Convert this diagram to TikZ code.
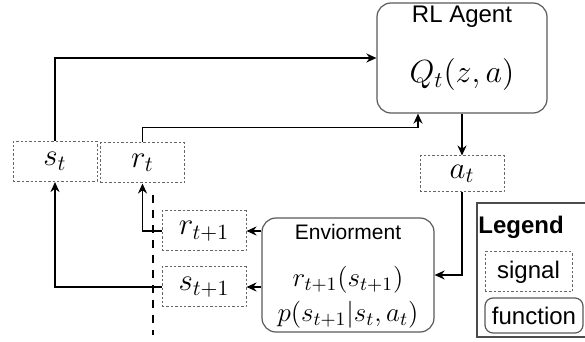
\RequirePackage{fix-cm}
\documentclass[tikz,border=0pt]{standalone}
\usepackage{fontspec}
\setsansfont{Liberation Sans}
\usetikzlibrary{arrows.meta}

\begin{document}
\begin{tikzpicture}[x=0.5pt, y=-0.5pt, >={Stealth[length=5pt,width=4.5pt]},
    signal/.style={draw=black!60, dash pattern=on 1.2pt off 1pt, line width=0.5pt, minimum width=42pt, minimum height=20pt, inner sep=0pt, font=\fontsize{15.5}{18}\selectfont},
    func/.style={draw=black!65, rounded corners=7pt, line width=0.6pt, inner sep=0pt},
    link/.style={->, line width=0.95pt}]
    \useasboundingbox (0,0) rectangle (585,342);
    \node[func, minimum width=85pt, minimum height=55pt] (agent) at (462,58) {};
    \node[font=\sffamily\fontsize{12}{14}\selectfont] (agentname) at (462,17) {RL Agent};
    \node[font=\fontsize{16}{19}\selectfont] (agentq) at (462,75) {$Q_t(z,a)$};
    \node[func, minimum width=86pt, minimum height=57pt] (env) at (348,275) {};
    \node[font=\sffamily\fontsize{10.5}{12}\selectfont] (envname) at (348,231.5) {Enviorment};
    \node[font=\fontsize{13.5}{16}\selectfont] (envr) at (348,280) {$r_{t+1}(s_{t+1})$};
    \node[font=\fontsize{13.5}{16}\selectfont] (envp) at (348,315) {$p(s_{t+1}|s_t,a_t)$};
    \node[signal] (st) at (55,161.5) {$s_t$};
    \node[signal] (rt) at (142.5,163) {$r_t$};
    \node[signal, minimum height=18pt] (at) at (462,174) {$a_t$};
    \node[signal] (rtn) at (204,231) {$r_{t+1}$};
    \node[signal] (stn) at (204,287) {$s_{t+1}$};
    \draw[link] (st.north) |- (agent.west);
    \draw[link] (rt.north) -- ++(0,-15) -| ([xshift=-22pt]agent.south);
    \draw[link] (agent.south) -- (at.north);
    \draw[link] (at.south) |- (env.east);
    \draw[link] (env.west |- rtn.east) -- (rtn.east);
    \draw[link] (env.west |- stn.east) -- (stn.east);
    \draw[link] (rtn.west) -| (rt.south);
    \draw[link] (stn.west) -| (st.south);
    \draw[line width=1.4pt, dash pattern=on 4pt off 3.5pt] (153,195) -- (153,335);
    \draw[draw=black!70, line width=0.6pt] (477,203) rectangle (600,337);
    \node[anchor=west, inner sep=0pt, font=\sffamily\bfseries\fontsize{12}{14}\selectfont] (legend) at (478,227) {Legend};
    \node[signal, minimum width=43.5pt, font=\sffamily\fontsize{12}{14}\selectfont] (sigkey) at (528.5,272) {signal};
    \node[func, rounded corners=4pt, minimum width=49pt, minimum height=17.5pt, font=\sffamily\fontsize{12}{14}\selectfont] (funkey) at (534,315.5) {function};
\end{tikzpicture}
\end{document}
